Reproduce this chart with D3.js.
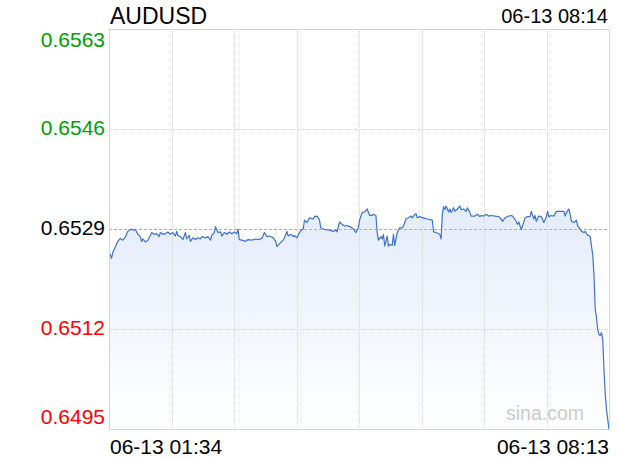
<!DOCTYPE html>
<html>
<head>
<meta charset="utf-8">
<script src="https://cdn.jsdelivr.net/npm/d3@7"></script>
<style>
  html, body { margin: 0; padding: 0; background: #fff; }
  svg { display: block; font-family: "Liberation Sans", Arial, Helvetica, sans-serif; }
</style>
</head>
<body>
<svg id="chart" width="620" height="460"></svg>
<script>
const title = "AUDUSD";
const updateTime = "06-13 08:14";
const xTickLabels = ["06-13 01:34", "06-13 08:13"];
const yTickValues = [0.6563, 0.6546, 0.6529, 0.6512, 0.6495];
const prevClose = 0.6529;
const totalMinutes = 399;

const minutes = [0,2,3,5,7,9,11,13,15,18,19,21,23,25,26,27,29,31,33,34,36,38,40,41,43,45,47,49,51,53,54,55,57,59,61,62,64,65,67,69,71,73,74,77,79,81,82,84,85,87,89,90,92,94,96,98,100,102,103,104,106,109,111,114,117,119,122,124,126,128,131,133,134,136,139,140,142,143,145,147,148,150,152,154,155,156,158,160,163,164,166,168,169,171,173,176,179,181,182,184,186,188,190,192,194,195,197,199,200,202,204,206,208,210,211,213,214,215,217,218,219,220,222,223,224,226,227,228,230,232,234,235,237,239,241,242,244,245,246,248,250,251,254,256,258,259,261,264,265,266,267,268,269,271,272,273,275,276,278,280,281,283,285,286,288,289,292,294,296,297,299,301,303,305,308,311,313,314,316,319,321,322,324,326,327,329,331,332,334,336,337,339,340,341,343,345,347,349,350,351,353,355,357,359,363,364,365,367,368,369,371,373,374,376,377,379,380,382,383,384,385,386,387,388,389,390,391,392,393,394,395,396,397,398,399];

const prices = [0.65252,0.65240,0.65250,0.65259,0.65269,0.65274,0.65271,0.65276,0.65286,0.65290,0.65288,0.65289,0.65281,0.65277,0.65269,0.65273,0.65268,0.65271,0.65279,0.65284,0.65281,0.65282,0.65277,0.65284,0.65281,0.65282,0.65285,0.65281,0.65284,0.65278,0.65286,0.65279,0.65277,0.65272,0.65284,0.65273,0.65279,0.65269,0.65275,0.65272,0.65275,0.65273,0.65277,0.65275,0.65277,0.65271,0.65279,0.65284,0.65294,0.65284,0.65285,0.65278,0.65284,0.65281,0.65285,0.65282,0.65285,0.65282,0.65290,0.65272,0.65271,0.65269,0.65272,0.65271,0.65273,0.65272,0.65274,0.65284,0.65277,0.65278,0.65275,0.65269,0.65260,0.65265,0.65271,0.65275,0.65286,0.65278,0.65281,0.65277,0.65279,0.65275,0.65284,0.65289,0.65290,0.65305,0.65301,0.65309,0.65307,0.65311,0.65312,0.65305,0.65292,0.65290,0.65289,0.65288,0.65286,0.65288,0.65285,0.65302,0.65298,0.65295,0.65296,0.65294,0.65292,0.65290,0.65284,0.65292,0.65305,0.65318,0.65319,0.65324,0.65313,0.65313,0.65315,0.65313,0.65284,0.65271,0.65277,0.65273,0.65281,0.65261,0.65278,0.65261,0.65264,0.65262,0.65281,0.65262,0.65284,0.65292,0.65292,0.65295,0.65307,0.65309,0.65312,0.65309,0.65315,0.65316,0.65309,0.65311,0.65309,0.65309,0.65307,0.65306,0.65305,0.65285,0.65284,0.65281,0.65273,0.65315,0.65328,0.65323,0.65329,0.65319,0.65324,0.65318,0.65326,0.65320,0.65324,0.65329,0.65323,0.65324,0.65320,0.65326,0.65318,0.65312,0.65312,0.65315,0.65311,0.65313,0.65312,0.65315,0.65312,0.65313,0.65312,0.65311,0.65307,0.65303,0.65309,0.65312,0.65313,0.65312,0.65306,0.65298,0.65302,0.65289,0.65302,0.65309,0.65311,0.65311,0.65320,0.65307,0.65313,0.65303,0.65312,0.65311,0.65301,0.65311,0.65320,0.65311,0.65313,0.65312,0.65320,0.65320,0.65320,0.65312,0.65318,0.65324,0.65315,0.65303,0.65301,0.65305,0.65295,0.65290,0.65286,0.65284,0.65286,0.65279,0.65279,0.65277,0.65261,0.65247,0.65213,0.65153,0.65140,0.65119,0.65111,0.65109,0.65114,0.65102,0.65051,0.65009,0.64983,0.64966,0.64949];

const data = minutes.map((m, i) => ({ m, p: prices[i] }));

const svg = d3.select("#chart");
const L = 109, R = 609, T = 29, B = 429;

const x = d3.scaleLinear().domain([0, totalMinutes]).range([L, R]);
const y = d3.scaleLinear().domain([d3.min(yTickValues), d3.max(yTickValues)]).range([B, T]);

// gradient
const defs = svg.append("defs");
const grad = defs.append("linearGradient")
  .attr("id", "fillGrad").attr("gradientUnits", "userSpaceOnUse")
  .attr("x1", 0).attr("x2", 0).attr("y1", 205).attr("y2", B);
grad.append("stop").attr("offset", "0%").attr("stop-color", "#e4ecfa");
grad.append("stop").attr("offset", "100%").attr("stop-color", "#ffffff");
defs.append("clipPath").attr("id", "plotClip")
  .append("rect").attr("x", L).attr("y", T).attr("width", R - L).attr("height", B - T + 1);

const plot = svg.append("g").attr("clip-path", "url(#plotClip)");

// area
const area = d3.area().x(d => x(d.m)).y0(B).y1(d => y(d.p));
plot.append("path").datum(data).attr("d", area).attr("fill", "url(#fillGrad)");

// vertical grid
const vGrid = d3.range(1, 8).map(k => k * totalMinutes / 8);
plot.selectAll(".vg").data(vGrid).enter().append("line")
  .attr("x1", d => Math.round(x(d)) + 0.5).attr("x2", d => Math.round(x(d)) + 0.5)
  .attr("y1", T).attr("y2", B)
  .attr("stroke", "#d4d4d4").attr("stroke-width", 1).attr("stroke-dasharray", "1,1");

// horizontal grid
const hGrid = yTickValues.filter(v => v !== d3.min(yTickValues) && v !== d3.max(yTickValues));
plot.selectAll(".hg").data(hGrid).enter().append("line")
  .attr("x1", L).attr("x2", R)
  .attr("y1", d => Math.round(y(d)) + 0.5).attr("y2", d => Math.round(y(d)) + 0.5)
  .attr("stroke", d => d === prevClose ? "#b0b0b0" : "#d4d4d4")
  .attr("stroke-width", 1)
  .attr("stroke-dasharray", d => d === prevClose ? "3,2" : "1,1");

// line
const line = d3.line().x(d => x(d.m)).y(d => y(d.p));
plot.append("path").datum(data).attr("d", line)
  .attr("fill", "none").attr("stroke", "#3f72cf").attr("stroke-width", 1.2)
  .attr("stroke-linejoin", "round");

// border
svg.append("rect").attr("x", L + 0.5).attr("y", T + 0.5)
  .attr("width", R - L).attr("height", B - T)
  .attr("fill", "none").attr("stroke", "#d6d6d6").attr("stroke-width", 1);

// watermark
svg.append("text").attr("x", 506).attr("y", 420)
  .attr("font-size", "19.5px").attr("fill", "#cccccc").text("sina.com");

// y labels
const yLabelOffset = (v, i) => i === 0 ? 17.5 : (i === yTickValues.length - 1 ? -5 : 6);
svg.selectAll(".yl").data(yTickValues).enter().append("text")
  .attr("x", 105).attr("y", (d, i) => y(d) + yLabelOffset(d, i))
  .attr("text-anchor", "end").attr("font-size", "21px")
  .attr("fill", d => Math.abs(d - prevClose) < 1e-9 ? "#000" : (d > prevClose ? "#00a000" : "#ff0000"))
  .text(d => d3.format(".4f")(d));

// x labels
svg.append("text").attr("x", L + 1).attr("y", 454).attr("font-size", "21px")
  .attr("fill", "#000").text(xTickLabels[0]);
svg.append("text").attr("x", R).attr("y", 454).attr("font-size", "21px")
  .attr("text-anchor", "end").attr("fill", "#000").text(xTickLabels[1]);

// title & time
svg.append("text").attr("x", L + 1).attr("y", 24).attr("font-size", "23px")
  .attr("fill", "#000").text(title);
svg.append("text").attr("x", 608).attr("y", 23).attr("font-size", "20px")
  .attr("text-anchor", "end").attr("fill", "#000").text(updateTime);
</script>
</body>
</html>
